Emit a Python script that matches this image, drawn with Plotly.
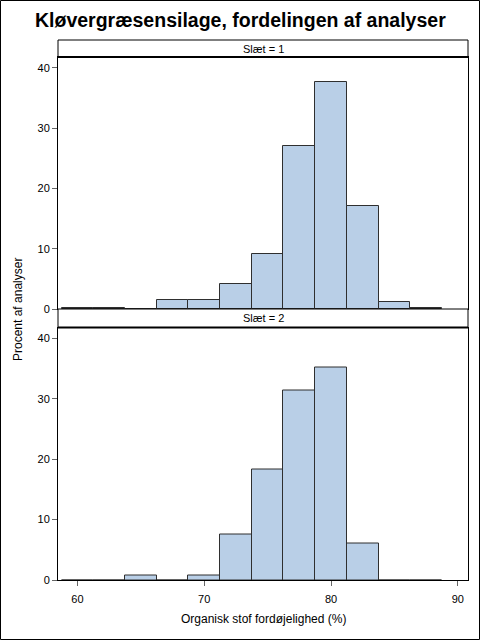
import plotly.graph_objects as go
from plotly.subplots import make_subplots

# bin midpoints (bin width 2.5)
bins = [60, 62.5, 65, 67.5, 70, 72.5, 75, 77.5, 80, 82.5, 85, 87.5]
# percent of analyses, slæt 1 and slæt 2
slaet1 = [0.23, 0.23, 0, 1.56, 1.56, 4.1, 9.15, 27.1, 37.7, 17.1, 1.1, 0.17]
slaet2 = [0, 0, 0.7, 0, 0.7, 7.6, 18.3, 31.3, 35.2, 6.1, 0, 0]

strips = ["Slæt = 1", "Slæt = 2"]
xticks = [60, 70, 80, 90]
yticks = [0, 10, 20, 30, 40]

W, H = 480, 640
def py(pix):
    return 1 - pix / H

fig = make_subplots(rows=2, cols=1, shared_xaxes=True)

bar_fill = '#B9CFE7'
bar_line = '#2F2F2F'
for i, vals in enumerate([slaet1, slaet2]):
    fig.add_trace(
        go.Bar(
            x=bins,
            y=vals,
            width=2.5,
            marker=dict(color=bar_fill, line=dict(color=bar_line, width=1)),
            showlegend=False,
            hoverinfo='x+y',
        ), row=i + 1, col=1
    )

font_main = 'Arial, Liberation Sans, sans-serif'
x_dom = [58 / W, 468 / W]
common = dict(showline=True, linecolor='black', linewidth=1, mirror=True,
              showgrid=False, zeroline=False, automargin=False)

fig.update_layout(
    width=W, height=H,
    margin=dict(l=0, r=0, t=0, b=0),
    paper_bgcolor='white',
    plot_bgcolor='white',
    font=dict(family=font_main, size=11, color='#000000'),
    bargap=0,
    xaxis=dict(domain=x_dom, anchor='y', range=[58.47, 90.8],
               showticklabels=False, ticks='', **common),
    xaxis2=dict(domain=x_dom, anchor='y2', range=[58.47, 90.8], tickvals=xticks,
                ticks='outside', ticklen=5, tickcolor='#666666', ticklabelstandoff=4,
                tickfont=dict(size=11, color='#000000'), **common),
    yaxis=dict(domain=[py(309), py(57)], range=[0, 41.77], tickvals=yticks,
               ticks='outside', ticklen=5, tickcolor='#666666',
               tickfont=dict(size=11, color='#000000'), **common),
    yaxis2=dict(domain=[py(580), py(327.5)], range=[0, 41.77], tickvals=yticks,
                ticks='outside', ticklen=5, tickcolor='#666666',
                tickfont=dict(size=11, color='#000000'), **common),
)

shapes = [
    # outer frame
    dict(type='rect', xref='paper', yref='paper', x0=0.5 / W, x1=1 - 0.5 / W,
         y0=0.5 / H, y1=1 - 0.5 / H, line=dict(color='black', width=1)),
]
annotations = [
    dict(text='<b>Kløvergræsensilage, fordelingen af analyser</b>', xref='paper', yref='paper',
         x=0.5, y=py(20), xanchor='center', yanchor='middle', showarrow=False,
         font=dict(size=19.5, family=font_main)),
    dict(text='Organisk stof fordøjelighed (%)', xref='paper', yref='paper',
         x=(x_dom[0] + x_dom[1]) / 2, y=py(619), xanchor='center', yanchor='middle',
         showarrow=False, font=dict(size=12)),
    dict(text='Procent af analyser', xref='paper', yref='paper', textangle=-90,
         x=18 / W, y=py(310), xanchor='center', yanchor='middle',
         showarrow=False, font=dict(size=12)),
]
for lab, top, bot in zip(strips, [40, 309], [57, 327.5]):
    shapes.append(dict(type='rect', xref='paper', yref='paper', x0=x_dom[0], x1=x_dom[1],
                       y0=py(bot), y1=py(top), line=dict(color='black', width=1),
                       fillcolor='white'))
    shapes.append(dict(type='line', xref='paper', yref='paper', x0=x_dom[0], x1=x_dom[1],
                       y0=py(bot), y1=py(bot), line=dict(color='black', width=2)))
    annotations.append(dict(text=lab, xref='paper', yref='paper', x=(x_dom[0] + x_dom[1]) / 2,
                            y=py((top + bot) / 2), xanchor='center', yanchor='middle',
                            showarrow=False, font=dict(size=11)))

fig.update_layout(shapes=shapes, annotations=annotations)

# no page margin, no modebar: the 480x640 figure fills the window exactly
fig.write_html("out.html", config={'displayModeBar': False},
               post_script="document.body.style.margin='0';")
